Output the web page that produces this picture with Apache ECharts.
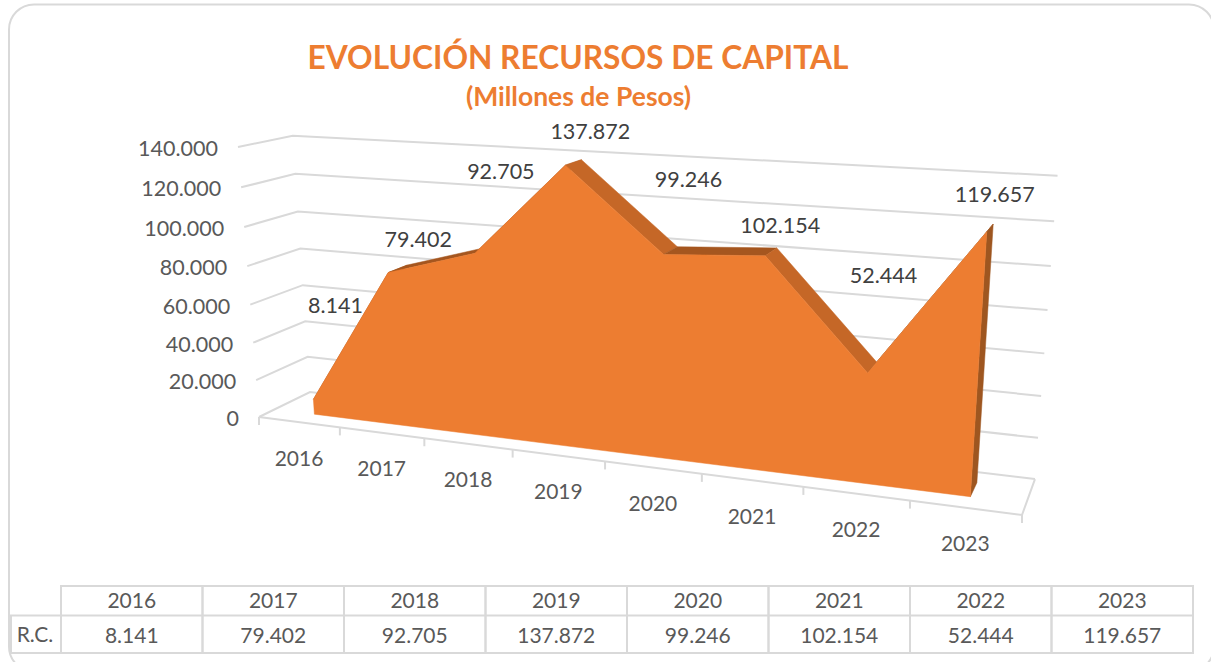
<!DOCTYPE html>
<html>
<head>
<meta charset="utf-8">
<style>
  html, body { margin: 0; padding: 0; background: #fff; overflow: hidden; }
  #chart { width: 1211px; height: 662px; }
</style>
<script src="https://cdn.jsdelivr.net/npm/echarts@6/dist/echarts.min.js"></script>
</head>
<body>
<div id="chart"></div>
<script>
var categories = ['2016', '2017', '2018', '2019', '2020', '2021', '2022', '2023'];
var values = [8141, 79402, 92705, 137872, 99246, 102154, 52444, 119657];
var yTicks = [0, 20000, 40000, 60000, 80000, 100000, 120000, 140000];
var rowLabel = 'R.C.';
var titleText = 'EVOLUCIÓN RECURSOS DE CAPITAL';
var subtitleText = '(Millones de Pesos)';

(function() {
  var orange = '#ed7d31';
  var ink = '#404040';
  var muted = '#595959';
  var rule = '#d9d9d9';
  var font = 'Lato';

  var chart = echarts.init(document.getElementById('chart'), null, { renderer: 'svg' });

  // corners of the 3D box as seen on screen, with the perspective weights
  var origin = [259, 417];
  var endU = [1022, 515];
  var endV = [238, 147];
  var endW = [310, 392];
  var weightU = 0.83;
  var weightV = 0.95;
  var weightW = 1.0555;

  // depth range of the area inside the box
  var areaFront = 0.3;
  var areaBack = 0.7;

  // Excel labels were dragged by hand, offset from the top of each point
  var labelOffsets = [[22, -94], [30, -34], [26, -82], [25, -34], [25, -75], [15, -31], [16, -98], [8, -38]];

  function project(u, v, w) {
    var den = 1 + u * (weightU - 1) + v * (weightV - 1) + w * (weightW - 1);
    return [0, 1].map(function(k) {
      var num = origin[k] +
        u * (weightU * endU[k] - origin[k]) +
        v * (weightV * endV[k] - origin[k]) +
        w * (weightW * endW[k] - origin[k]);
      return num / den;
    });
  }

  // goes through the hidden cartesian axes, then out through the box projection
  function toBox(params, api, cat, val) {
    var cs = params.coordSys;
    var p = api.coord([cat, val]);
    return [(p[0] - cs.x) / cs.width, (cs.y + cs.height - p[1]) / cs.height];
  }

  function line(points, width) {
    return {
      type: 'polyline',
      shape: { points: points },
      style: { stroke: rule, lineWidth: width || 2, fill: null }
    };
  }

  function poly(points, color) {
    return {
      type: 'polygon',
      shape: { points: points },
      style: { fill: color, stroke: color, lineWidth: 0.5 }
    };
  }

  function text(x, y, str, size, color, align) {
    return {
      type: 'text',
      x: x,
      y: y,
      style: {
        text: str,
        font: size + 'px ' + font,
        fill: color,
        align: align || 'center',
        verticalAlign: 'middle'
      }
    };
  }

  function fmt(n) {
    return String(n).replace(/\B(?=(\d{3})+$)/g, '.');
  }

  function renderGridLine(params, api) {
    var b = toBox(params, api, 0, api.value(1));
    var left = project(0, b[1], 0);
    return {
      type: 'group',
      children: [
        line([left, project(0, b[1], 1), project(1, b[1], 1)]),
        text(left[0] - 20, left[1] + 1, fmt(api.value(1)), 21.5, muted, 'right')
      ]
    };
  }

  function renderFloor(params, api) {
    var b = toBox(params, api, api.value(0), 0);
    var band = api.size([1, 0])[0] / params.coordSys.width;
    var tickU = b[0] - band / 2;
    var a = project(tickU, 0, 0);
    var kids = [line([a, [a[0], a[1] + 8]])];
    var mid = project(b[0], 0, 0);
    kids.push(text(mid[0], mid[1] + 35, categories[params.dataIndex], 21, muted));
    if (params.dataIndex === categories.length - 1) {
      var end = project(1, 0, 0);
      kids.push(line([project(0, 0, 0), end, project(1, 0, 1)]));
      kids.push(line([end, [end[0], end[1] + 8]]));
    }
    return { type: 'group', children: kids };
  }

  // top faces between two points, the front face is painted over them afterwards
  function renderRoof(params, api) {
    var i = params.dataIndex;
    if (i === values.length - 1) return;
    var a = toBox(params, api, i, values[i]);
    var c = toBox(params, api, i + 1, values[i + 1]);
    var rising = values[i + 1] > values[i];
    var color = rising ? '#a5561f' : '#c56727';
    return poly([
      project(a[0], a[1], areaFront),
      project(c[0], c[1], areaFront),
      project(c[0], c[1], areaBack),
      project(a[0], a[1], areaBack)
    ], color);
  }

  function renderSide(params, api) {
    var i = values.length - 1;
    var a = toBox(params, api, i, values[i]);
    return poly([
      project(a[0], 0, areaFront),
      project(a[0], a[1], areaFront),
      project(a[0], a[1], areaBack),
      project(a[0], 0, areaBack)
    ], '#9e5620');
  }

  function renderFront(params, api) {
    var first = toBox(params, api, 0, 0);
    var last = toBox(params, api, values.length - 1, 0);
    var pts = [project(first[0], 0, areaFront)];
    values.forEach(function(val, i) {
      var b = toBox(params, api, i, val);
      pts.push(project(b[0], b[1], areaFront));
    });
    pts.push(project(last[0], 0, areaFront));
    return poly(pts, orange);
  }

  function renderLabel(params, api) {
    var i = params.dataIndex;
    var b = toBox(params, api, i, values[i]);
    var p = project(b[0], b[1], areaFront);
    return text(p[0] + labelOffsets[i][0], p[1] + labelOffsets[i][1], fmt(values[i]), 21.5, ink);
  }

  // data table under the chart
  var rowTop = 586;
  var rowMid = 615.5;
  var rowBottom = 653;
  var tableLeft = 11;

  function renderCell(params, api) {
    var i = params.dataIndex;
    var cx = api.coord([i, 0])[0];
    var w = api.size([1, 0])[0];
    var kids = [
      { type: 'rect', shape: { x: cx - w / 2, y: rowTop, width: w, height: rowBottom - rowTop },
        style: { fill: null, stroke: rule, lineWidth: 2 } },
      line([[cx - w / 2, rowMid], [cx + w / 2, rowMid]]),
      text(cx, (rowTop + rowMid) / 2 - 1, categories[i], 21, muted),
      text(cx, (rowMid + rowBottom) / 2, fmt(values[i]), 21, muted)
    ];
    if (i === 0) {
      var x0 = cx - w / 2;
      kids.push(line([[x0, rowMid], [tableLeft, rowMid], [tableLeft, rowBottom], [x0, rowBottom]]));
      kids.push(text((tableLeft + x0) / 2 - 1, (rowMid + rowBottom) / 2 - 1, rowLabel, 21, muted));
    }
    return { type: 'group', children: kids };
  }

  function boxSeries(data, render, z) {
    return { type: 'custom', coordinateSystem: 'cartesian2d', xAxisIndex: 0, yAxisIndex: 0,
      renderItem: render, data: data, z: z, silent: true, clip: false };
  }

  var pairs = values.map(function(v, i) { return [i, v]; });
  var gridData = yTicks.map(function(t) { return [0, t]; });

  var option = {
    animation: false,
    backgroundColor: '#fff',
    title: [
      { text: titleText, left: 573, top: 36, textAlign: 'center',
        textStyle: { color: orange, fontFamily: font, fontWeight: 'bold', fontSize: 31.7 } },
      { text: subtitleText, left: 573.5, top: 77, textAlign: 'center',
        textStyle: { color: orange, fontFamily: font, fontWeight: 'bold', fontSize: 26.5 } }
    ],
    graphic: [{
      type: 'rect',
      shape: { x: 9, y: 4.5, width: 1205, height: 667, r: 25 },
      style: { fill: null, stroke: rule, lineWidth: 2 },
      silent: true,
      z: 0
    }],
    grid: [
      { left: 100, top: 100, width: 800, height: 400 },
      { left: 61, top: rowTop, width: 1132, height: rowBottom - rowTop }
    ],
    xAxis: [
      { type: 'category', gridIndex: 0, data: categories, show: false },
      { type: 'category', gridIndex: 1, data: categories, show: false }
    ],
    yAxis: [
      { type: 'value', gridIndex: 0, min: 0, max: 140000, interval: 20000, show: false },
      { type: 'value', gridIndex: 1, min: 0, max: 1, show: false }
    ],
    series: [
      boxSeries(gridData, renderGridLine, 1),
      boxSeries(pairs, renderFloor, 1),
      boxSeries(pairs, renderRoof, 2),
      boxSeries([[0, 0]], renderSide, 3),
      boxSeries([[0, 0]], renderFront, 4),
      boxSeries(pairs, renderLabel, 5),
      { type: 'custom', coordinateSystem: 'cartesian2d', xAxisIndex: 1, yAxisIndex: 1,
        renderItem: renderCell, data: pairs.map(function(p) { return [p[0], 0]; }), z: 5, silent: true }
    ]
  };

  chart.setOption(option);
  window.addEventListener('resize', function() { chart.resize(); });
})();
</script>
</body>
</html>
